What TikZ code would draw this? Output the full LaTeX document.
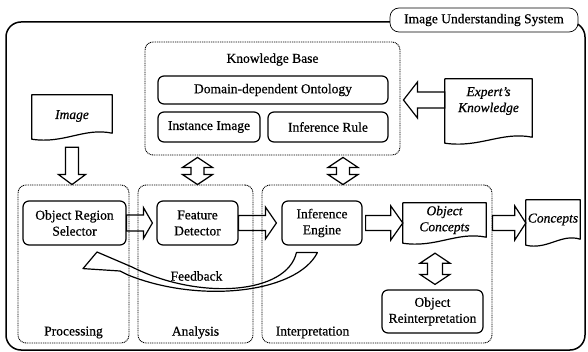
\documentclass[tikz,border=0pt]{standalone}
\usepackage{fontspec}
\setmainfont{Liberation Serif}[UprightFeatures={FakeBold=0.6},ItalicFeatures={FakeBold=0.6}]
\usetikzlibrary{calc}

\newcommand\lblfont{\fontsize{13.5}{16}\selectfont}

% right/left block arrow: start, tip, shaft half width, head half width, head length (negative for left)
\newcommand\harrow[5]{%
  \draw[blockarrow] let \p1=(#1), \p2=(#2) in
    (\x1,\y1+#3pt) -- ({\x2-(#5)*1pt},\y1+#3pt) -- ({\x2-(#5)*1pt},\y1+#4pt)
    -- (\x2,\y1) -- ({\x2-(#5)*1pt},\y1-#4pt) -- ({\x2-(#5)*1pt},\y1-#3pt)
    -- (\x1,\y1-#3pt) -- cycle;}
% downward block arrow: start, tip, shaft half width, head half width, head length
\newcommand\varrow[5]{%
  \draw[blockarrow] let \p1=(#1), \p2=(#2) in
    (\x1-#3pt,\y1) -- (\x1-#3pt,\y2+#5pt) -- (\x1-#4pt,\y2+#5pt) -- (\x1,\y2)
    -- (\x1+#4pt,\y2+#5pt) -- (\x1+#3pt,\y2+#5pt) -- (\x1+#3pt,\y1) -- cycle;}
% vertical double block arrow: top tip, bottom tip, shaft half width, head half width, head length
\newcommand\vdarrow[5]{%
  \draw[blockarrow] let \p1=(#1), \p2=(#2) in
    (\x1,\y1) -- (\x1+#4pt,\y1-#5pt) -- (\x1+#3pt,\y1-#5pt) -- (\x1+#3pt,\y2+#5pt)
    -- (\x1+#4pt,\y2+#5pt) -- (\x1,\y2) -- (\x1-#4pt,\y2+#5pt) -- (\x1-#3pt,\y2+#5pt)
    -- (\x1-#3pt,\y1-#5pt) -- (\x1-#4pt,\y1-#5pt) -- cycle;}
% document outline with a wavy lower edge around an empty node
\newcommand\docpath[1]{%
  \draw[docline] let \p1=(#1.north west), \p2=(#1.south east), \n1={\x2-\x1} in
    (\x1,\y1) -- (\x2,\y1) -- (\x2,\y2+6pt)
    .. controls ({\x2-0.35*\n1},\y2+12pt) and ({\x1+0.4*\n1},\y2-5pt) .. (\x1,\y2) -- cycle;}

\tikzset{
  box/.style={draw, line width=1.2pt, rounded corners=6pt, align=center,
    inner sep=1pt, font=\lblfont},
  frame/.style={draw, line width=0.9pt, dash pattern=on 1pt off 0.8pt,
    rounded corners=8pt, inner sep=0pt},
  sysframe/.style={draw, line width=1.5pt, rounded corners=15pt, inner sep=0pt},
  systitle/.style={draw, line width=0.7pt, fill=white, rounded corners=9pt,
    font=\lblfont, inner sep=0pt},
  doc/.style={inner sep=0pt},
  doctext/.style={align=center, font=\lblfont\itshape, inner sep=0pt},
  lbl/.style={font=\lblfont, inner sep=0pt},
  docline/.style={line width=1.2pt, line join=round},
  blockarrow/.style={line width=1.2pt, line join=miter},
}

\begin{document}
\begin{tikzpicture}[x=1pt,y=-1pt]
\useasboundingbox (0,0) rectangle (588,352);

% system frame and its title tab
\node[sysframe, minimum width=579, minimum height=328] (sys) at (295.5,186) {};
\node[systitle, minimum width=188, minimum height=24] (systab) at (484,20)
  {Image Understanding System};

% knowledge base
\node[frame, minimum width=255, minimum height=113] (kb) at (272.5,98.5) {};
\node[lbl] (kbtitle) at ($(kb.north)+(0,18)$) {Knowledge Base};
\node[box, minimum width=230, minimum height=28] (dom) at (273,90) {Domain-dependent Ontology};
\node[box, minimum width=102, minimum height=30] (inst) at (209,127) {Instance Image};
\node[box, minimum width=120, minimum height=30] (rule) at (328,127) {Inference Rule};

% stage frames
\node[frame, minimum width=111, minimum height=158] (proc) at (73.5,264) {};
\node[frame, minimum width=115, minimum height=158] (ana) at (195.5,264) {};
\node[frame, minimum width=230, minimum height=158] (int) at (377,264) {};
\node[lbl] (proctitle) at ($(proc.south)+(0,-11)$) {Processing};
\node[lbl] (anatitle) at ($(ana.south)+(0,-11)$) {Analysis};
\node[lbl] (inttitle) at ($(int.south west)+(51,-11)$) {Interpretation};

% processing modules
\node[box, minimum width=103, minimum height=44] (ors) at (74.5,223) {Object Region\\Selector};
\node[box, minimum width=81, minimum height=44] (fd) at (197.5,223) {Feature\\Detector};
\node[box, minimum width=80, minimum height=44] (ie) at (322,223) {Inference\\Engine};
\node[box, minimum width=101, minimum height=43] (ori) at (432.5,311.5) {Object\\Reinterpretation};

% documents
\node[doc, minimum width=80, minimum height=44] (img) at (72,117) {};
\docpath{img}
\node[doctext] (imgtext) at ($(img)+(0,-1)$) {Image};
\node[doc, minimum width=87, minimum height=64] (exp) at (488.5,111) {};
\docpath{exp}
\node[doctext] (exptext) at ($(exp)+(0,-10)$) {Expert's\\Knowledge};
\node[doc, minimum width=83, minimum height=40] (oc) at (444.5,223) {};
\docpath{oc}
\node[doctext] (octext) at ($(oc)+(0,-3)$) {Object\\Concepts};
\node[doc, minimum width=54, minimum height=45] (con) at (553,222.5) {};
\docpath{con}
\node[doctext] (context) at ($(con)+(0,-3)$) {Concepts};

% block arrows
\varrow{$(img.south)+(0,8)$}{proc.north}{6.5}{13.5}{10}
\vdarrow{$(kb.south -| fd)+(0,2)$}{ana.north -| fd}{6.5}{15}{10}
\vdarrow{$(kb.south -| rule)+(15,2)$}{$(int.north -| rule)+(15,0)$}{6.5}{15}{10}
\harrow{$(exp.west)+(0,-11)$}{$(kb.east)+(3,0)$}{8}{18}{-14}
\harrow{ors.east}{$(fd.west)+(-4,0)$}{8}{15.5}{9}
\harrow{fd.east}{$(ie.west)+(-5,0)$}{7.5}{16}{11}
\harrow{$(ie.east)+(3,0)$}{oc.west}{7.5}{17}{12}
\harrow{int.east |- oc}{con.west}{7.5}{17}{11}
\vdarrow{$(oc.south -| ori)+(2.5,10)$}{$(ori.north)+(2.5,-5)$}{7.5}{15}{10}

% feedback arrow from the inference engine back to the region selector
\coordinate (fbtip) at ($(ors.south)+(8.5,23)$);
\coordinate (fbtail) at ($(ie.south west)+(15,7)$);
\draw[blockarrow, line join=round] (fbtip) -- (97,252) -- (132,267)
  .. controls (200,301) and (287,294) .. (fbtail) -- ($(fbtail)+(21,0)$)
  .. controls (297,293) and (200,304) .. (128,275) -- (120,271) -- cycle;
\node[lbl] (fbtext) at (196.5,276) {Feedback};
\end{tikzpicture}
\end{document}
